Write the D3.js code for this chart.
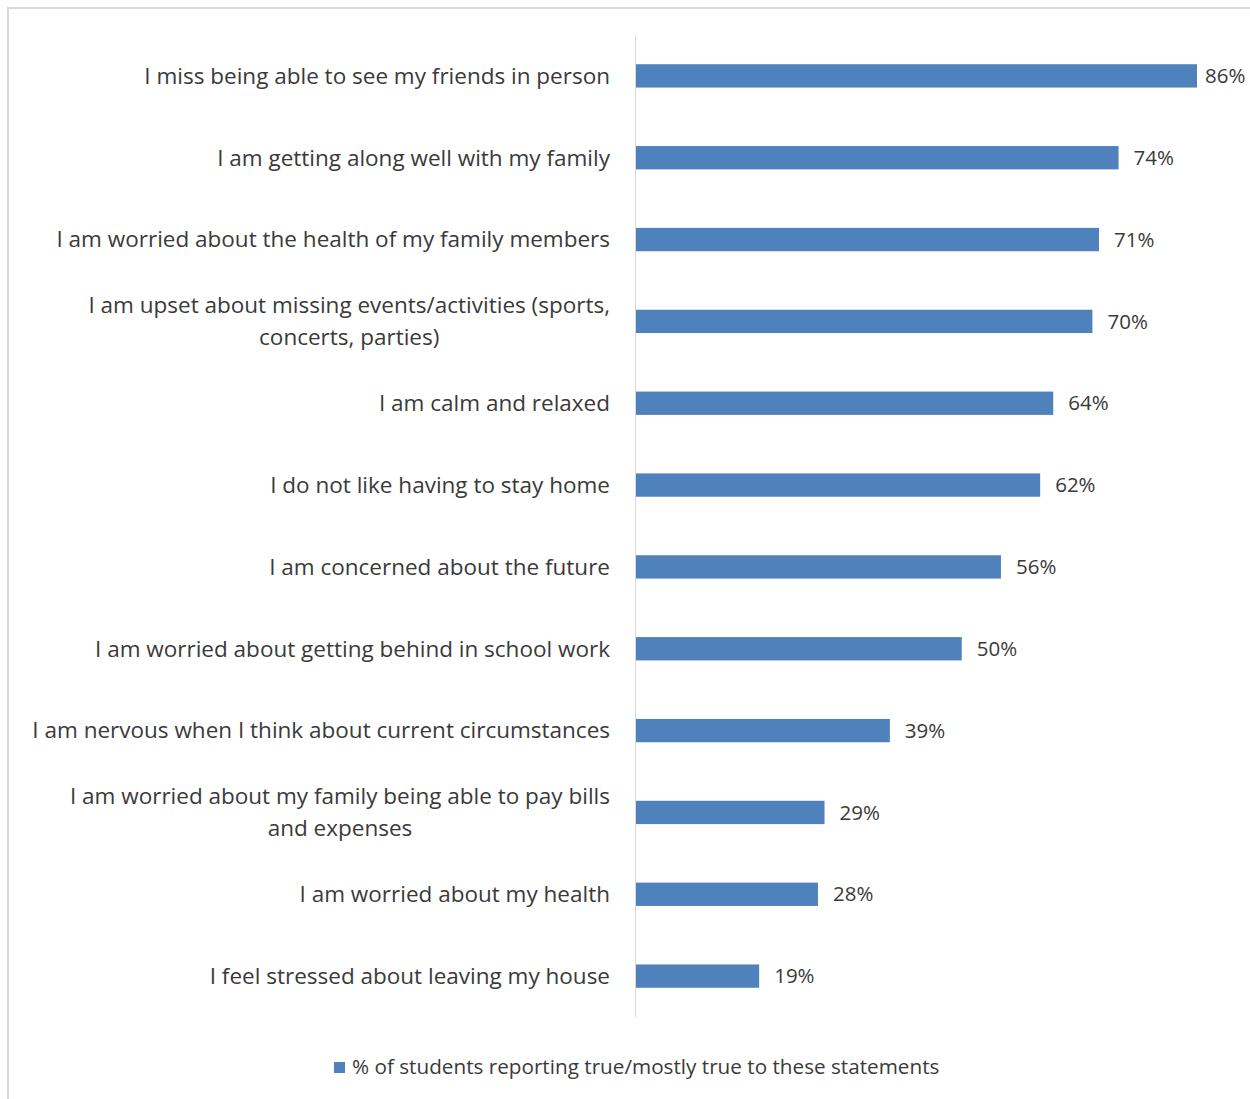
<!DOCTYPE html>
<html>
<head>
<meta charset="utf-8">
<script src="https://cdn.jsdelivr.net/npm/d3@7"></script>
<style>
  body { margin: 0; background: #fff; }
  svg { font-family: "Open Sans", Lato, sans-serif; }
</style>
</head>
<body>
<div id="chart"></div>
<script>
/** Chart data. */
const CATEGORIES = [
    ["I miss being able to see my friends in person"],
    ["I am getting along well with my family"],
    ["I am worried about the health of my family members"],
    ["I am upset about missing events/activities (sports,", "concerts, parties)"],
    ["I am calm and relaxed"],
    ["I do not like having to stay home"],
    ["I am concerned about the future"],
    ["I am worried about getting behind in school work"],
    ["I am nervous when I think about current circumstances"],
    ["I am worried about my family being able to pay bills", "and expenses"],
    ["I am worried about my health"],
    ["I feel stressed about leaving my house"],
];
const VALUES = [86, 74, 71, 70, 64, 62, 56, 50, 39, 29, 28, 19];
const SERIES_NAME = "% of students reporting true/mostly true to these statements";

/** Layout. */
const WIDTH = 1250;
const HEIGHT = 1099;
const AXIS_X = 635;
const PLOT = {top: 35, bottom: 1017};
const BAR_COLOR = "#4f81bd";
const TEXT_COLOR = "#3a3a3a";

const x = d3.scaleLinear()
    .domain([0, 86])
    .range([AXIS_X, 1197]);
const y = d3.scaleBand()
    .domain(d3.range(CATEGORIES.length))
    .range([PLOT.top, PLOT.bottom])
    .paddingInner(0.715)
    .paddingOuter(0.357);

const svg = d3.select("#chart").append("svg")
    .attr("width", WIDTH)
    .attr("height", HEIGHT);

// chart frame (only top and left visible in the crop)
svg.append("rect")
    .attr("x", 8)
    .attr("y", 8)
    .attr("width", WIDTH + 10)
    .attr("height", HEIGHT + 10)
    .attr("fill", "none")
    .attr("stroke", "#d9d9d9")
    .attr("stroke-width", 2);

// bars
svg.append("g")
    .selectAll("rect")
    .data(VALUES)
    .join("rect")
    .attr("x", x(0) + 1)
    .attr("y", (d, i) => y(i))
    .attr("width", d => x(d) - x(0) - 1)
    .attr("height", y.bandwidth())
    .attr("fill", BAR_COLOR);

// category axis line
svg.append("line")
    .attr("x1", AXIS_X + 0.5)
    .attr("x2", AXIS_X + 0.5)
    .attr("y1", PLOT.top)
    .attr("y2", PLOT.bottom)
    .attr("stroke", "#d9d9d9")
    .attr("stroke-width", 1);

// value labels
svg.append("g")
    .selectAll("text")
    .data(VALUES)
    .join("text")
    .attr("x", d => Math.min(x(d) + 15, 1205))
    .attr("y", (d, i) => y(i) + y.bandwidth() / 2)
    .attr("dy", "0.35em")
    .attr("font-size", 20.5)
    .attr("fill", TEXT_COLOR)
    .text(d => d + "%");

// category labels: block right-aligned, lines centred on each other
const labels = svg.append("g")
    .selectAll("g")
    .data(CATEGORIES)
    .join("g");

labels.each(function(lines, i) {
    const g = d3.select(this);
    const cy = y(i) + y.bandwidth() / 2;
    const lineH = 32;
    const texts = g.selectAll("text")
        .data(lines)
        .join("text")
        .attr("y", (d, j) => cy + (j - (lines.length - 1) / 2) * lineH)
        .attr("dy", "0.35em")
        .attr("font-size", 22.5)
        .attr("fill", TEXT_COLOR)
        .attr("text-anchor", "middle")
        .text(d => d);
    const widths = texts.nodes().map(n => n.getComputedTextLength());
    const maxW = d3.max(widths);
    texts.attr("x", 610 - maxW / 2);
});

// legend
const legend = svg.append("g");
legend.append("rect")
    .attr("x", 334)
    .attr("y", 1062)
    .attr("width", 11)
    .attr("height", 11)
    .attr("fill", BAR_COLOR);
legend.append("text")
    .attr("x", 352)
    .attr("y", 1067)
    .attr("dy", "0.35em")
    .attr("font-size", 20.7)
    .attr("fill", TEXT_COLOR)
    .text(SERIES_NAME);
</script>
</body>
</html>
